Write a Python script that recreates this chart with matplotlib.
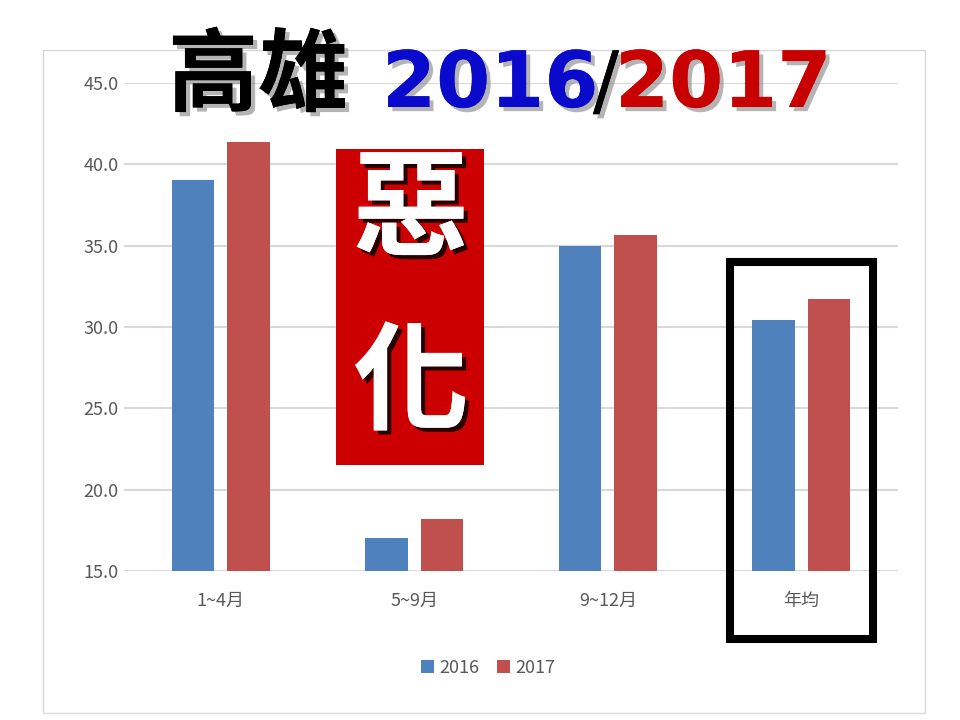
import numpy as np
import matplotlib
matplotlib.use("Agg")
import matplotlib.pyplot as plt
import matplotlib.patches as mpatches
import matplotlib.patheffects as pe

plt.rcParams['font.family'] = ['Noto Sans CJK TC', 'DejaVu Sans']

# Data
categories = ['1~4月', '5~9月', '9~12月', '年均']
years = ['2016', '2017']
vals_2016 = [39.05, 17.05, 35.0, 30.45]
vals_2017 = [41.35, 18.2, 35.65, 31.75]
y_ticks = [15, 20, 25, 30, 35, 40, 45]

W, H = 960, 720
fig = plt.figure(figsize=(9.6, 7.2), dpi=100)
fig.patch.set_facecolor('white')


def fx(x):
    return x / W


def fy(y):
    return 1 - y / H


# outer chart border
fig.add_artist(mpatches.Rectangle((fx(43), fy(713)), fx(925) - fx(43), fy(50) - fy(713),
                                  transform=fig.transFigure, fill=False,
                                  edgecolor='#D9D9D9', linewidth=1, zorder=-1))

ax = fig.add_axes([fx(124), fy(571), fx(898) - fx(124), fy(83) - fy(571)])
x = np.arange(len(categories))
bw = 0.22
off = 0.144
ax.bar(x - off, np.array(vals_2016) - 15, bw, bottom=15, color='#4F81BD', label=years[0], zorder=3)
ax.bar(x + off, np.array(vals_2017) - 15, bw, bottom=15, color='#C0504D', label=years[1], zorder=3)

ax.set_xlim(-0.5, len(categories) - 0.5)
ax.set_ylim(15, 45)
ax.set_yticks(y_ticks)
ax.set_yticklabels([f'{v:.1f}' for v in y_ticks])
ax.set_xticks(x)
ax.set_xticklabels(categories)
ax.grid(axis='y', color='#D9D9D9', linewidth=1.5, zorder=0)
ax.set_axisbelow(True)
for s in ax.spines.values():
    s.set_visible(False)
ax.tick_params(axis='both', length=0, colors='#595959', labelsize=13)
ax.tick_params(axis='x', pad=15)
ax.tick_params(axis='y', pad=4)

leg = fig.legend(loc='center', bbox_to_anchor=(fx(488), fy(668)), ncol=2, frameon=False,
                 fontsize=13, handlelength=0.7, handleheight=0.7, handletextpad=0.3,
                 columnspacing=1.0)
for t in leg.get_texts():
    t.set_color('#595959')

# title
shadow = [pe.withSimplePatchShadow(offset=(3, -3), shadow_rgbFace='#777777', alpha=0.55), pe.Normal()]
digits = ['DejaVu Sans']
fig.text(fx(168), fy(104), '高雄', fontsize=65, fontweight='bold', color='black',
         ha='left', va='baseline', path_effects=shadow)
fig.text(fx(382), fy(107), '2016', fontsize=56, fontweight='bold', color='#0A0ACC',
         family=digits, ha='left', va='baseline', path_effects=shadow)
fig.text(fx(606), fy(107), '/', fontsize=56, fontweight='normal', color='black',
         family=digits, ha='center', va='baseline', path_effects=shadow)
fig.text(fx(615), fy(107), '2017', fontsize=56, fontweight='bold', color='#C80000',
         family=digits, ha='left', va='baseline', path_effects=shadow)

# red label box
fig.add_artist(mpatches.Rectangle((fx(336), fy(465)), fx(484) - fx(336), fy(149) - fy(465),
                                  transform=fig.transFigure, facecolor='#CC0000',
                                  edgecolor='none', zorder=2))
wshadow = [pe.withSimplePatchShadow(offset=(3, -3), shadow_rgbFace='black', alpha=0.8), pe.Normal()]
fig.text(fx(411), fy(213), '惡', fontsize=84, fontweight='bold', color='white',
         ha='center', va='center', path_effects=wshadow, zorder=4)
fig.text(fx(411), fy(386), '化', fontsize=84, fontweight='bold', color='white',
         ha='center', va='center', path_effects=wshadow, zorder=4)

# black frame around the yearly average
fig.add_artist(mpatches.Rectangle((fx(730), fy(639)), fx(873) - fx(730), fy(262) - fy(639),
                                  transform=fig.transFigure, fill=False,
                                  edgecolor='black', linewidth=5.8, zorder=5))

fig.savefig('out.png', dpi=100)
